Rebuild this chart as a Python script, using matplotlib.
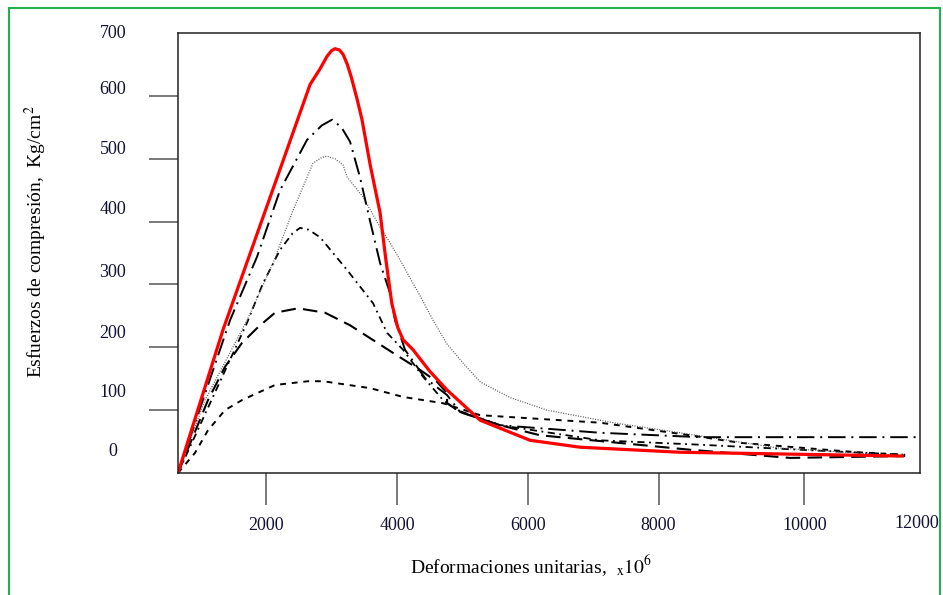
import numpy as np
import matplotlib
matplotlib.use("Agg")
import matplotlib.pyplot as plt
from matplotlib.patches import Rectangle

plt.rcParams['font.family'] = ['Liberation Serif', 'DejaVu Serif']
plt.rcParams['mathtext.fontset'] = 'stix'

# curvas esfuerzo - deformacion
x_rojo = [650, 1339, 2200, 2670, 2823, 2930, 3000, 3052, 3120, 3175, 3240, 3300,
          3389, 3465, 3590, 3741, 3830, 3920, 4010, 4093, 4246, 4500, 4766,
          5271, 6036, 6801, 8331, 11727]
y_rojo = [0, 228, 480, 618, 643, 663, 672, 675, 673, 666, 650, 630,
          595, 562, 490, 414, 339, 270, 232, 212, 196, 162, 132,
          84, 52, 41, 33, 27]

x_c2 = [650, 1446, 1859, 2211, 2624, 2850, 3006, 3150, 3282, 3435, 3590, 3741,
        3894, 3970, 4123, 4429, 4766, 4965, 5577, 7107, 8637, 11990]
y_c2 = [0, 243, 344, 450, 530, 553, 562, 550, 527, 470, 400, 334,
        286, 243, 196, 151, 124, 97, 76, 64, 57, 57]

x_c3 = [650, 1063, 1706, 2104, 2410, 2716, 2850, 2930, 3050, 3175, 3236, 3481,
        3741, 3894, 4047, 4200, 4353, 4551, 4766, 5010, 5271, 5730, 6296,
        7306, 8331, 9815, 11773]
y_c3 = [0, 116, 243, 334, 418, 493, 502, 504, 500, 490, 471, 439,
        391, 366, 339, 310, 282, 243, 205, 175, 145, 120, 100,
        80, 64, 40, 27]

x_c4 = [650, 1706, 1951, 2211, 2400, 2517, 2650, 2823, 3236, 3634, 3848, 4093,
        4399, 4704, 4919, 5577, 7107, 8637, 10167, 11773]
y_c4 = [0, 239, 302, 355, 381, 390, 387, 375, 323, 270, 223, 196,
        153, 116, 100, 76, 52, 45, 37, 29]

x_c5 = [650, 1109, 1369, 1629, 1874, 2134, 2486, 2899, 3282, 3940, 4353, 4613,
        4766, 4766, 4965, 5577, 6189, 8484, 10014, 11773]
y_c5 = [0, 116, 169, 207, 232, 255, 262, 255, 235, 191, 164, 145,
        127, 111, 97, 76, 60, 37, 24, 27]

x_c6 = [650, 910, 1109, 1369, 1629, 2134, 2639, 2869, 3588, 4093, 4704, 5271,
        7107, 8484, 9249, 11039, 11773]
y_c6 = [0, 32, 68, 100, 116, 140, 146, 146, 135, 121, 111, 92,
        80, 60, 48, 33, 29]

yticks = [100, 200, 300, 400, 500, 600]
ylabels = ['700', '600', '500', '400', '300', '200', '100', '0']
ylabel_vals = [700, 600, 500, 400, 300, 200, 100, 0]
ylabel_shift = [0, 6, 9, 12, 12, 14, 18, 21]
xticks = [2000, 4000, 6000, 8000, 10232]
xlabels = ['2000', '4000', '6000', '8000', '10000']

fig = plt.figure(figsize=(9.43, 5.95), dpi=100)
ax = fig.add_axes([178/943, 1-473/595, (920-178)/943, (473-33)/595])

ax.plot(x_c6, y_c6, color='black', lw=1.4, dashes=(3, 3))
ax.plot(x_c5, y_c5, color='black', lw=1.5, dashes=(7, 3.5))
ax.plot(x_c4, y_c4, color='black', lw=1.3, dashes=(4, 2.5, 1, 2.5))
ax.plot(x_c3, y_c3, color='#555555', lw=0.9, dashes=(0.8, 1.2))
ax.plot(x_c2, y_c2, color='black', lw=1.4, dashes=(9, 3, 1, 3))
ax.plot(x_rojo, y_rojo, color='red', lw=2.3, solid_joinstyle='round')

ax.set_xlim(650, 12000)
ax.set_ylim(0, 700)

for s in ax.spines.values():
    s.set_linewidth(1.1)
    s.set_color('#222222')

ax.set_yticks(yticks)
ax.set_yticklabels([])
ax.tick_params(axis='y', length=21, width=1.1, color='#555555', direction='out')
ax.set_xticks(xticks)
ax.set_xticklabels(xlabels, fontsize=13, color='#111133')
ax.tick_params(axis='x', length=23, width=1.1, color='#555555', direction='out', pad=9)

for lab, v, sh in zip(ylabels, ylabel_vals, ylabel_shift):
    ax.annotate(lab, xy=(0, v), xycoords=('axes fraction', 'data'),
                xytext=(-65, sh), textcoords='offset pixels',
                ha='center', va='center', fontsize=13, color='#111133',
                annotation_clip=False)

ax.annotate('12000', xy=(12000, 0), xycoords='data', xytext=(-3, -51),
            textcoords='offset pixels', ha='center', va='center',
            fontsize=13, color='#111133', annotation_clip=False)

fig.text(36/943, 1-242/595, r'Esfuerzos de compresión,  Kg/cm$^{2}$',
         rotation=90, ha='center', va='center', fontsize=14)
fig.text(531/943, 1-566/595, r'Deformaciones unitarias,  $_{\mathrm{x}}\mathrm{10}^{6}$',
         ha='center', va='center', fontsize=14)

fig.patches.append(Rectangle((9/943, -0.05), (940-9)/943, 1-8/595+0.05,
                             transform=fig.transFigure, fill=False,
                             edgecolor='#22b14c', lw=1.5))

fig.savefig('out.png', dpi=100)
